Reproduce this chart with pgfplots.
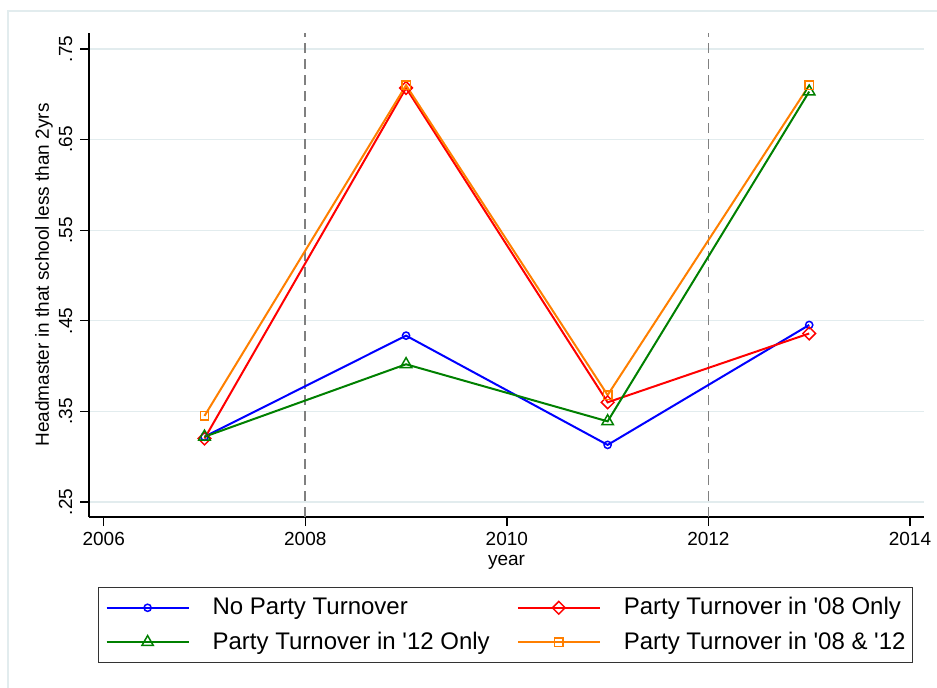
\documentclass[border=0pt]{standalone}
\usepackage{pgfplots}
\pgfplotsset{compat=1.18}
\usepackage{fontspec}
\setmainfont{Liberation Sans}
\definecolor{sblue}{RGB}{0,0,255}
\definecolor{sred}{RGB}{255,0,0}
\definecolor{sgreen}{RGB}{0,128,0}
\definecolor{sorange}{RGB}{255,127,0}
\definecolor{gridc}{RGB}{226,236,238}
\definecolor{framec}{RGB}{226,236,238}
\begin{document}
\begin{tikzpicture}
\useasboundingbox (0,0) rectangle (468.5pt,-344pt);
\draw[framec, line width=0.8pt] (4pt,-5.5pt) rectangle (480pt,-360pt);
\begin{axis}[
 at={(44.5pt,-16.5pt)}, anchor=north west,
 scale only axis, width=417.5pt, height=242pt,
 xmin=2005.854, xmax=2014.139, ymin=0.2334, ymax=0.7677,
 axis x line*=bottom, axis y line*=left,
 axis line style={line width=0.7pt, -},
 xtick={2006,2008,2010,2012,2014}, xticklabels={2006,2008,2010,2012,2014},
 ytick={0.25,0.35,0.45,0.55,0.65,0.75}, yticklabels={.25,.35,.45,.55,.65,.75},
 tick align=outside, major tick length=4.5pt,
 tick style={black, line width=0.7pt},
 /pgf/number format/assume math mode=true,
 ticklabel style={font=\fontsize{9.5}{11}\selectfont},
 xticklabel style={anchor=base, yshift=-9.5pt},
 yticklabel style={xshift=-4pt, rotate=90, anchor=base},
 ymajorgrids, grid style={gridc, line width=0.6pt},
 xlabel={year}, ylabel={Headmaster in that school less than 2yrs},
 every axis x label/.style={at={(axis description cs:0.5,0)}, anchor=base, yshift=-24pt, font=\fontsize{9.5}{11}\selectfont},
 every axis y label/.style={at={(axis description cs:0,0.5)}, xshift=-20pt, rotate=90, anchor=base, font=\fontsize{9.5}{11}\selectfont},
 legend columns=2,
 legend cell align=left,
 legend style={at={(axis description cs:0.0108,-0.1446)}, anchor=north west,
   draw=black!80, line width=0.6pt, inner xsep=3.5pt, inner ysep=3pt, row sep=3pt,
   font=\fontsize{12}{14}\selectfont,
   nodes={inner xsep=0pt},
   /tikz/every odd column/.append style={column sep=11.5pt},
   /tikz/every even column/.append style={column sep=13.5pt}},
 legend image code/.code={\draw[#1, mark repeat=2, mark phase=2] plot coordinates {(0pt,0pt) (20.5pt,0pt) (41pt,0pt)};},
]
\addplot[gray, dashed, dash pattern=on 5pt off 3pt, line width=0.9pt, forget plot] coordinates {(2008,0.2334) (2008,0.7677)};
\addplot[gray, dashed, dash pattern=on 5pt off 3pt, line width=0.9pt, forget plot] coordinates {(2012,0.2334) (2012,0.7677)};
\addplot[sblue, line width=1pt, mark=o, mark size=1.8pt, mark options={line width=0.75pt, solid}] coordinates {
 (2007,0.322) (2009,0.4336) (2011,0.313) (2013,0.4454)};
\addlegendentry{No Party Turnover}
\addplot[sred, line width=1pt, mark=square, mark size=2.25pt, mark options={rotate=45, line width=0.75pt, solid}] coordinates {
 (2007,0.320) (2009,0.707) (2011,0.360) (2013,0.436)};
\addlegendentry{Party Turnover in \textquotesingle 08 Only}
\addplot[sgreen, line width=1pt, mark=triangle, mark size=3.3pt, mark options={line width=0.75pt, solid}] coordinates {
 (2007,0.322) (2009,0.402) (2011,0.339) (2013,0.703)};
\addlegendentry{Party Turnover in \textquotesingle 12 Only}
\addplot[sorange, line width=1pt, mark=square, mark size=2.1pt, mark options={line width=0.75pt, solid}] coordinates {
 (2007,0.345) (2009,0.710) (2011,0.368) (2013,0.710)};
\addlegendentry{Party Turnover in \textquotesingle 08 \& \textquotesingle 12}
\end{axis}
\end{tikzpicture}
\end{document}
